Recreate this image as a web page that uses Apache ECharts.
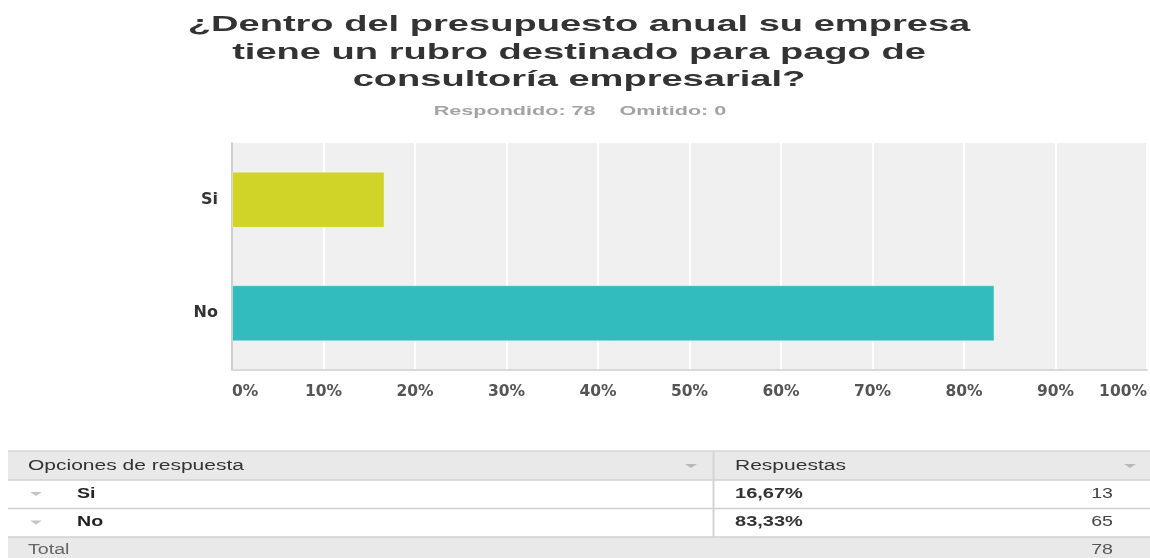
<!DOCTYPE html>
<html>
<head>
<meta charset="utf-8">
<script src="https://cdn.jsdelivr.net/npm/echarts@6/dist/echarts.min.js"></script>
<style>
  html, body { margin: 0; padding: 0; background: #fff; }
  #main { width: 1150px; height: 558px; }
</style>
</head>
<body>
<div id="main"></div>
<script>
var titleLines = [
    '¿Dentro del presupuesto anual su empresa',
    'tiene un rubro destinado para pago de',
    'consultoría empresarial?'
];
var categories = ['Si', 'No'];
var percentages = [16.67, 83.33];
var counts = [13, 65];
var answered = 78;
var omitted = 0;
var barColors = ['#cfd426', '#33bcbe'];
var xMin = 0, xMax = 100, xStep = 10;

document.addEventListener('DOMContentLoaded', function () {
    var chartDom = document.getElementById('main');
    var myChart = echarts.init(chartDom);
    var option;

    var arial = '"Liberation Sans", Arial, sans-serif';

    function txt(x, y, text, font, fill, align, sx) {
        return {
            type: 'text', x: x, y: y, scaleX: sx || 1, z: 10,
            style: {
                text: text, font: font, fill: fill,
                align: align, textAlign: align,
                verticalAlign: 'middle', textVerticalAlign: 'middle'
            }
        };
    }
    function tri(cx, cy, color) {
        return {
            type: 'polygon', z: 10,
            shape: { points: [[cx - 6, cy - 2], [cx + 6, cy - 2], [cx, cy + 2]] },
            style: { fill: color }
        };
    }
    function hline(y, color) {
        return { type: 'line', z: 9, shape: { x1: 8, y1: y, x2: 1150, y2: y }, style: { stroke: color, lineWidth: 1.5 } };
    }
    function fmtPct(v) {
        return v.toFixed(2).replace('.', ',') + '%';
    }

    var graphics = [];
    // title, three lines, drawn horizontally stretched like the reference
    var titleY = [25, 53, 80];
    titleLines.forEach(function (line, i) {
        graphics.push(txt(579, titleY[i], line, 'bold 22px ' + arial, '#333333', 'center', 1.73));
    });
    graphics.push(txt(580, 111, 'Respondido: ' + answered + '\u00a0\u00a0\u00a0\u00a0Omitido: ' + omitted,
        'bold 13px ' + arial, '#a3a3a3', 'center', 1.66));

    // table below the chart
    var rowTop = [480, 508.5];
    graphics.push({ type: 'rect', z: 8, shape: { x: 8, y: 451, width: 1142, height: 29 }, style: { fill: '#e9e9e9' } });
    graphics.push({ type: 'rect', z: 8, shape: { x: 8, y: 537, width: 1142, height: 30 }, style: { fill: '#e9e9e9' } });
    graphics.push(hline(451, '#d4d4d4'));
    graphics.push(hline(480, '#d0d0d0'));
    graphics.push(hline(508.5, '#d0d0d0'));
    graphics.push(hline(537, '#d0d0d0'));
    graphics.push({ type: 'line', z: 9, shape: { x1: 713.5, y1: 451, x2: 713.5, y2: 537 }, style: { stroke: '#d4d4d4', lineWidth: 2 } });
    graphics.push(txt(28, 466, 'Opciones de respuesta', '14px ' + arial, '#333333', 'left', 1.5));
    graphics.push(txt(735, 466, 'Respuestas', '14px ' + arial, '#333333', 'left', 1.5));
    graphics.push(tri(691, 466, '#b8b8b8'));
    graphics.push(tri(1130, 466, '#b8b8b8'));
    categories.forEach(function (c, i) {
        var cy = rowTop[i] + 14;
        graphics.push(tri(36, cy, '#c4c4c4'));
        graphics.push(txt(77, cy, c, 'bold 14px ' + arial, '#222222', 'left', 1.4));
        graphics.push(txt(735, cy, fmtPct(percentages[i]), 'bold 14px ' + arial, '#333333', 'left', 1.43));
        graphics.push(txt(1113, cy, String(counts[i]), '14px ' + arial, '#444444', 'right', 1.4));
    });
    graphics.push(txt(28, 550, 'Total', '14px ' + arial, '#666666', 'left', 1.4));
    graphics.push(txt(1113, 550, String(answered), '14px ' + arial, '#555555', 'right', 1.4));

    option = {
        animation: false,
        backgroundColor: '#ffffff',
        grid: {
            left: 232,
            right: 2,
            top: 143,
            bottom: 188,
            show: true,
            backgroundColor: '#f0f0f0',
            borderWidth: 0
        },
        xAxis: {
            type: 'value',
            min: xMin,
            max: xMax,
            interval: xStep,
            axisLine: { show: true, lineStyle: { color: '#d9d9d9', width: 2 } },
            axisTick: { show: false },
            splitLine: { show: true, lineStyle: { color: '#ffffff', width: 2 } },
            axisLabel: {
                formatter: '{value}%',
                margin: 14,
                fontFamily: '"DejaVu Sans", Verdana, sans-serif',
                fontWeight: 'bold',
                fontSize: 15.5,
                color: '#555555',
                alignMinLabel: 'left',
                alignMaxLabel: 'right'
            }
        },
        yAxis: {
            type: 'category',
            data: categories,
            inverse: true,
            axisLine: { show: true, lineStyle: { color: '#cfcfcf', width: 2 } },
            axisTick: { show: false },
            splitLine: { show: false },
            axisLabel: {
                margin: 14,
                fontFamily: '"DejaVu Sans", Verdana, sans-serif',
                fontWeight: 'bold',
                fontSize: 16,
                color: '#333333'
            }
        },
        series: [
            {
                type: 'bar',
                barWidth: 56,
                data: percentages.map(function (v, i) {
                    return { value: v, itemStyle: { color: barColors[i] } };
                }),
                itemStyle: { borderColor: 'rgba(255,255,255,0.35)', borderWidth: 1 }
            }
        ],
        graphic: graphics
    };

    option && myChart.setOption(option);
});
</script>
</body>
</html>
